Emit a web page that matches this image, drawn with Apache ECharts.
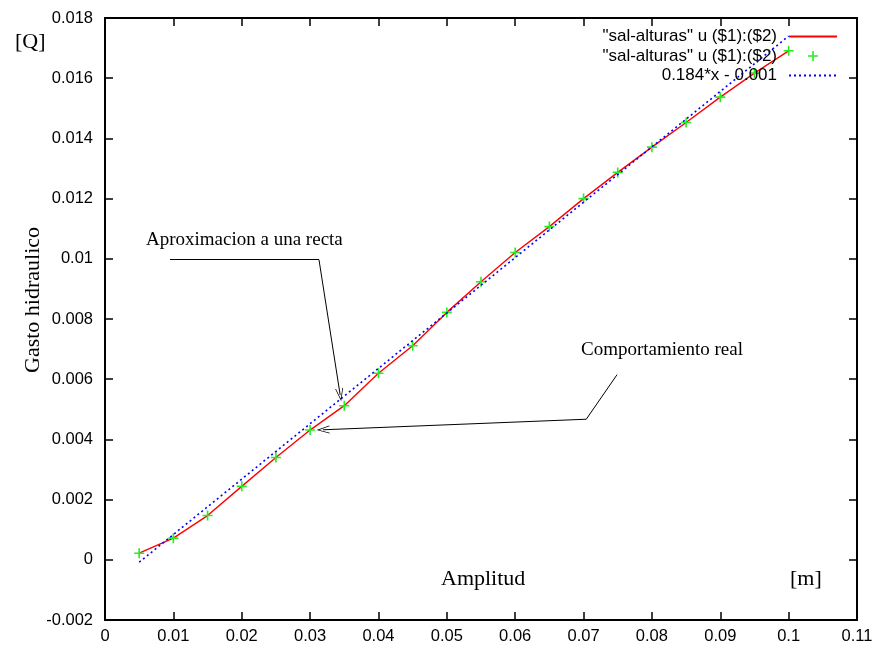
<!DOCTYPE html>
<html>
<head>
<meta charset="utf-8">
<script src="https://cdn.jsdelivr.net/npm/echarts@6/dist/echarts.min.js"></script>
<style>html,body{margin:0;padding:0;background:#fff;}#c{width:877px;height:648px;}</style>
</head>
<body>
<div id="c"></div>
<script>
// Data
const amplitud = [0.005, 0.01, 0.015, 0.02, 0.025, 0.03, 0.035, 0.04, 0.045, 0.05,
                  0.055, 0.06, 0.065, 0.07, 0.075, 0.08, 0.085, 0.09, 0.095, 0.1];
const gasto = [0.00022, 0.00072, 0.00147, 0.00244, 0.0034, 0.00431, 0.00512, 0.0062, 0.00711, 0.00822,
               0.00924, 0.01021, 0.01107, 0.0120, 0.01287, 0.01371, 0.01453, 0.01537, 0.01617, 0.01691];
const fitX = [0.005, 0.1];
const fitY = [-0.00008, 0.0174];
const xTicks = {min: 0, max: 0.11, interval: 0.01};
const yTicks = {min: -0.002, max: 0.018, interval: 0.002};
const legendNames = ['"sal-alturas" u ($1):($2)', ' "sal-alturas" u ($1):($2)', '0.184*x - 0.001'];
// annotation arrows (data coordinates): polyline points, arrow at the last point
const arrowRecta = [[0.0095, 0.00997], [0.0313, 0.00997], [0.0344, 0.00548]];
const arrowReal = [[0.0749, 0.00615], [0.0704, 0.00467], [0.0319, 0.00432]];

const chart = echarts.init(document.getElementById('c'), null, {renderer: 'canvas'});
const sans = 'Liberation Sans, Arial, Helvetica, sans-serif';
const serif = 'Liberation Serif, Times New Roman, serif';
const plusPath = 'path://M4.2,0H5.8V4.2H10V5.8H5.8V10H4.2V5.8H0V4.2H4.2Z';
// same plus with an invisible margin so it is drawn smaller in the legend box
const plusLegendPath = 'path://M4.2,0H5.8V4.2H10V5.8H5.8V10H4.2V5.8H0V4.2H4.2Z M-2,-2h0.01v0.01h-0.01Z M12,12h0.01v0.01h-0.01Z';
const headPath = 'path://M0,12 L5,0 L10,12 L9,12 L5,2.4 L1,12 Z';

function arrowSegments(pts) {
  const segs = [];
  for (let i = 0; i < pts.length - 1; i++) {
    const last = i === pts.length - 2;
    segs.push([
      {coord: pts[i], symbol: 'none'},
      {coord: pts[i + 1], symbol: last ? headPath : 'none', symbolSize: [8, 13]}
    ]);
  }
  return segs;
}

const fmt = v => String(+v.toFixed(4));

chart.setOption({
  animation: false,
  backgroundColor: '#fff',
  grid: {left: 105, right: 20, top: 18, bottom: 28, containLabel: false},
  legend: {
    orient: 'vertical', right: 34, top: 23, align: 'right',
    itemWidth: 48, itemHeight: 14, itemGap: 2.5,
    textStyle: {fontFamily: sans, fontSize: 17, color: '#000', lineHeight: 16, padding: [0, 7, 0, 0]},
    data: [
      {name: legendNames[0], itemStyle: {opacity: 0}},
      {name: legendNames[1], icon: plusLegendPath},
      {name: legendNames[2], itemStyle: {opacity: 0}}
    ],
    selectedMode: false
  },
  xAxis: [{
    type: 'value', min: xTicks.min, max: xTicks.max, interval: xTicks.interval,
    axisLine: {onZero: false, lineStyle: {color: '#000', width: 2}},
    axisTick: {inside: true, length: 8, lineStyle: {color: '#000', width: 1.5}},
    axisLabel: {fontFamily: sans, fontSize: 16.5, color: '#000', margin: 8, formatter: fmt},
    splitLine: {show: false}
  }, {
    type: 'value', position: 'top', min: xTicks.min, max: xTicks.max, interval: xTicks.interval,
    axisLine: {onZero: false, lineStyle: {color: '#000', width: 2}},
    axisTick: {inside: true, length: 8, lineStyle: {color: '#000', width: 1.5}},
    axisLabel: {show: false}, splitLine: {show: false}
  }],
  yAxis: [{
    type: 'value', min: yTicks.min, max: yTicks.max, interval: yTicks.interval,
    axisLine: {onZero: false, lineStyle: {color: '#000', width: 2}},
    axisTick: {inside: true, length: 8, lineStyle: {color: '#000', width: 1.5}},
    axisLabel: {fontFamily: sans, fontSize: 16.5, color: '#000', margin: 12, formatter: fmt},
    splitLine: {show: false}
  }, {
    type: 'value', position: 'right', min: yTicks.min, max: yTicks.max, interval: yTicks.interval,
    axisLine: {onZero: false, lineStyle: {color: '#000', width: 2}},
    axisTick: {inside: true, length: 8, lineStyle: {color: '#000', width: 1.5}},
    axisLabel: {show: false}, splitLine: {show: false}
  }],
  series: [{
    name: legendNames[0], type: 'line', symbol: 'none', showSymbol: false,
    data: amplitud.map((x, i) => [x, gasto[i]]),
    lineStyle: {color: '#ff0000', width: 1.4}, itemStyle: {color: '#ff0000'}, z: 2
  }, {
    name: legendNames[1], type: 'scatter', symbol: plusPath, symbolSize: 10,
    data: amplitud.map((x, i) => [x, gasto[i]]),
    itemStyle: {color: '#22ee22', opacity: 1}, z: 3
  }, {
    name: legendNames[2], type: 'line', symbol: 'none', showSymbol: false,
    data: fitX.map((x, i) => [x, fitY[i]]),
    lineStyle: {color: '#0000ff', width: 1.6, type: [2, 3]}, itemStyle: {color: '#0000ff'}, z: 4,
    markLine: {
      silent: true, animation: false,
      symbol: ['none', 'none'],
      label: {show: false},
      lineStyle: {color: '#000', width: 1, type: 'solid'},
      emphasis: {disabled: true},
      data: arrowSegments(arrowRecta).concat(arrowSegments(arrowReal))
    }
  }],
  graphic: [
    {type: 'text', left: 15, top: 31, style: {text: '[Q]', font: '22px ' + serif, fill: '#000'}},
    {type: 'text', x: 33, y: 300, rotation: Math.PI / 2,
     style: {text: 'Gasto hidraulico', font: '22px ' + serif, fill: '#000', align: 'center', verticalAlign: 'middle'}},
    {type: 'text', left: 441, top: 568, style: {text: 'Amplitud', font: '22px ' + serif, fill: '#000'}},
    {type: 'text', left: 790, top: 568, style: {text: '[m]', font: '22px ' + serif, fill: '#000'}},
    {type: 'text', left: 146, top: 231, style: {text: 'Aproximacion a una recta', font: '19px ' + serif, fill: '#000'}},
    {type: 'text', left: 581, top: 341, style: {text: 'Comportamiento real', font: '19px ' + serif, fill: '#000'}}
  ]
});
</script>
</body>
</html>
